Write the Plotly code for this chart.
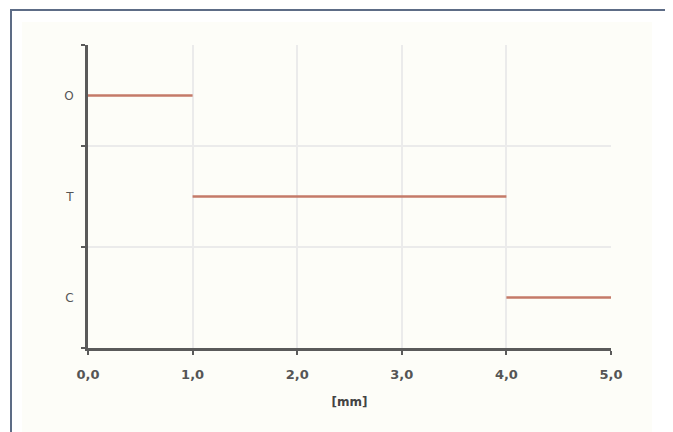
import plotly.graph_objects as go

# phases along the depth, in mm
phases = ["O", "T", "C"]
start_mm = [0.0, 1.0, 4.0]
end_mm = [1.0, 4.0, 5.0]
x_ticks = [0, 1, 2, 3, 4, 5]

n = len(phases)
ypos = [n - i - 0.5 for i in range(n)]

fig = go.Figure()
for name, s, e, y in zip(phases, start_mm, end_mm, ypos):
    fig.add_trace(go.Scatter(x=[s, e], y=[y, y], mode='lines', name=name,
                             line=dict(color='#c47a69', width=2.5), showlegend=False))

# page body has an 8px margin, so work in figure pixels
OFF = 8
W, H = 673 - OFF, 432 - OFF
L, R, T, B = 88 - OFF, 611 - OFF, 45 - OFF, 348 - OFF
def px(v): return (v - OFF - L) / (R - L)
def py(v): return (B - (v - OFF)) / (B - T)

# frame and pale panel behind the chart
fig.add_shape(type='rect', xref='paper', yref='paper', layer='below',
              x0=px(22), x1=px(652), y0=py(440), y1=py(22),
              fillcolor='#fdfdf8', line=dict(width=0))
fig.add_shape(type='rect', xref='paper', yref='paper', layer='below',
              x0=px(11), x1=px(667), y0=py(445), y1=py(10),
              line=dict(color='#5d6c86', width=2))

fig.update_layout(
    width=W, height=H, margin=dict(l=L, r=W - R, t=T, b=H - B),
    paper_bgcolor='white', plot_bgcolor='rgba(0,0,0,0)',
    separators=',.',
    font=dict(family='DejaVu Sans', size=11, color='#555555'),
    xaxis=dict(range=[0, 5], tickvals=x_ticks, tickformat='.1f',
               showline=True, linecolor='#5a5a5a', linewidth=3,
               ticks='outside', ticklen=4, tickcolor='#5a5a5a', tickwidth=2,
               showgrid=True, gridcolor='#ebebeb', gridwidth=2, zeroline=False,
               ticklabelstandoff=8,
               title=dict(text='<b>[mm]</b>', font=dict(size=12, color='#444444'), standoff=18),
               tickfont=dict(size=13, color='#555555', weight='bold')),
    yaxis=dict(range=[0, 3], tickvals=ypos, ticktext=phases, ticks='',
               showline=True, linecolor='#5a5a5a', linewidth=3,
               showgrid=False, zeroline=False, ticklabelstandoff=9,
               tickfont=dict(size=12, color='#555555'),
               minor=dict(tickvals=[0, 1, 2, 3], ticks='outside', ticklen=4,
                          tickcolor='#5a5a5a', tickwidth=2,
                          showgrid=True, gridcolor='#ebebeb', gridwidth=2)),
)

fig.write_html("out.html")
